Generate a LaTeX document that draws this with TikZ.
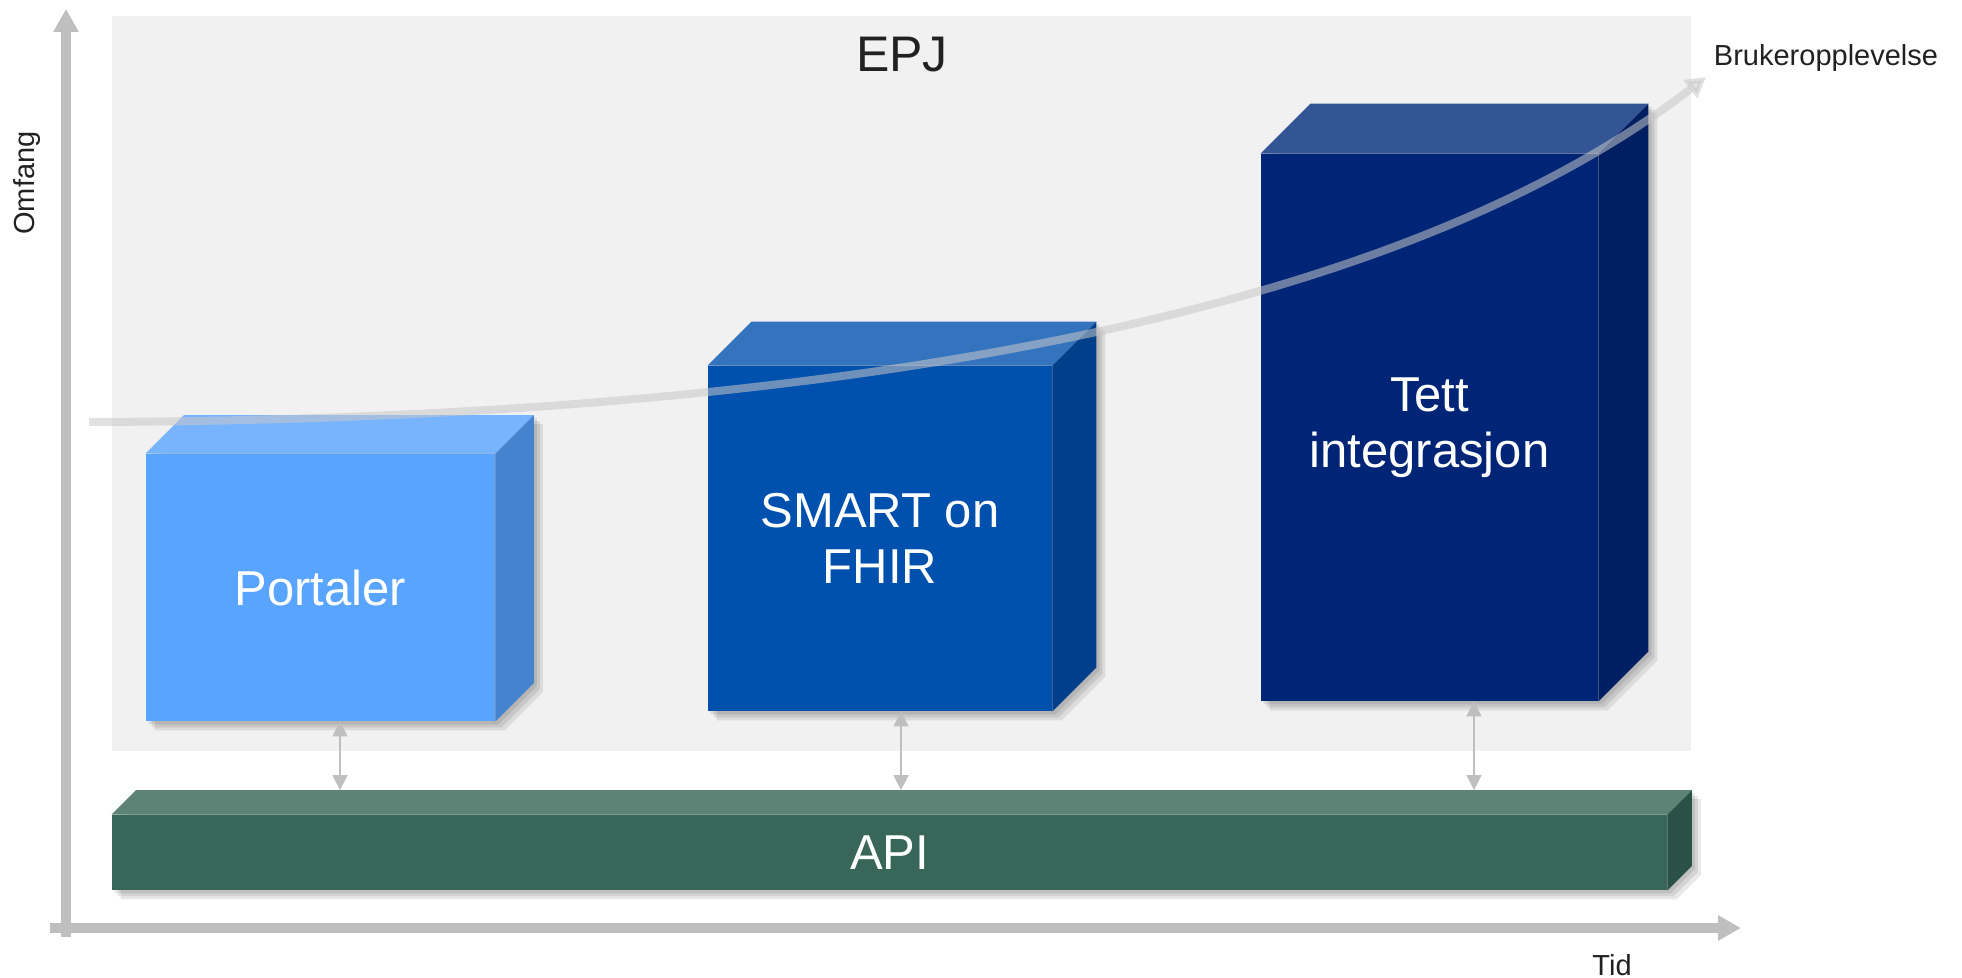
\documentclass[tikz,border=0pt]{standalone}
\usepackage{fontspec}
\setmainfont{Liberation Sans}
\usetikzlibrary{arrows.meta, backgrounds}
\tikzset{>=stealth}

\definecolor{epjbg}{HTML}{F1F1F1}
\definecolor{axisgray}{HTML}{BFBFBF}
\definecolor{trendgray}{HTML}{C8C8C8}
\definecolor{labeltext}{HTML}{212121}
\definecolor{portalF}{HTML}{58A4FE}
\definecolor{portalT}{HTML}{78B4FE}
\definecolor{portalS}{HTML}{4683CF}
\definecolor{smartF}{HTML}{0050AD}
\definecolor{smartT}{HTML}{3473BD}
\definecolor{smartS}{HTML}{00408B}
\definecolor{tettF}{HTML}{002577}
\definecolor{tettT}{HTML}{335596}
\definecolor{tettS}{HTML}{001F63}
\definecolor{apiF}{HTML}{386658}
\definecolor{apiT}{HTML}{5D8376}
\definecolor{apiS}{HTML}{2B5045}

\tikzset{
  boxfront/.style={inner sep=0pt, text=white, align=center, font=\fontsize{24.5}{28}\selectfont},
  axislabel/.style={text=labeltext, inner sep=0pt, font=\fontsize{14.5}{17}\selectfont},
  axisline/.style={axisgray, line width=5pt, -{Triangle[width=12pt,length=11.5pt]}},
  apilink/.style={axisgray, line width=0.75pt, {Triangle[width=7.5pt,length=7.5pt]}-{Triangle[width=7.5pt,length=7.5pt]}},
  trend/.style={draw=trendgray, opacity=0.55, line width=4pt, -{Triangle[width=11pt,length=10pt]}},
  boxshadow/.style={fill=black, opacity=0.09}
}

\begin{document}
\begin{tikzpicture}[x=0.5pt, y=-0.5pt]
    \useasboundingbox (0,0) rectangle (1962,978);
    % EPJ area
    \begin{scope}[on background layer]
        \fill[epjbg] (112,16) rectangle (1691,751);
    \end{scope}
    \node[axislabel, font=\fontsize{25}{30}\selectfont] (epj) at (902,55) {EPJ};

    % front faces
    \node[boxfront, fill=portalF, minimum width=174.5pt, minimum height=133.5pt] (portaler) at (320.5,587.5) {Portaler};
    \node[boxfront, fill=smartF, minimum width=172pt, minimum height=172.5pt] (smart) at (880,538.5) {SMART on\\FHIR};
    \node[boxfront, fill=tettF, minimum width=168.5pt, minimum height=273.5pt] (tett) at (1429.5,427.5) {Tett\\integrasjon};
    \node[boxfront, fill=apiF, minimum width=777.5pt, minimum height=37.5pt] (api) at (889.5,852.5) {API};

    % top and side faces, soft shadows
    \foreach \b/\d/\col in {portaler/38.5/portal, smart/44/smart, tett/50/tett, api/24.5/api} {
        \fill[\col T] (\b.north west) -- ([shift={(\d,-\d)}]\b.north west) -- ([shift={(\d,-\d)}]\b.north east) -- (\b.north east) -- cycle;
        \fill[\col S] (\b.north east) -- ([shift={(\d,-\d)}]\b.north east) -- ([shift={(\d,-\d)}]\b.south east) -- (\b.south east) -- cycle;
        \begin{scope}[on background layer]
            \foreach \s in {3,6,9} {
                \fill[boxshadow] ([shift={(\s,\s)}]\b.south west) -- ([shift={(\s,\s)}]\b.north west) -- ([shift={(\d+\s,\s-\d)}]\b.north west) -- ([shift={(\d+\s,\s-\d)}]\b.north east) -- ([shift={(\d+\s,\s-\d)}]\b.south east) -- ([shift={(\s,\s)}]\b.south east) -- cycle;
            }
        \end{scope}
    }

    % links to API
    \coordinate (apiback) at ([shift={(24.5,-24.5)}]api.north west);
    \draw[apilink] ([xshift=9.75pt]portaler.south) -- ([xshift=9.75pt]portaler.south |- apiback);
    \draw[apilink] ([xshift=10.5pt]smart.south) -- ([xshift=10.5pt]smart.south |- apiback);
    \draw[apilink] ([xshift=22.25pt]tett.south) -- ([xshift=22.25pt]tett.south |- apiback);

    % user experience curve
    \coordinate (trendstart) at (89,422);
    \coordinate (trendend) at (1706,77);
    \draw[trend] (trendstart) .. controls (800,420) and (1385,325) .. (trendend);
    \node[axislabel, anchor=base] (ux) at (1826,66) {Brukeropplevelse};

    % axes
    \coordinate (yfoot) at (66,937);
    \coordinate (ytop) at (66,9);
    \coordinate (xfoot) at (50,928);
    \coordinate (xend) at (1741,928);
    \draw[axisline] (yfoot) -- (ytop);
    \draw[axisline] (xfoot) -- (xend);
    \node[axislabel, rotate=90] (omfang) at (27,183) {Omfang};
    \node[axislabel, anchor=base] (tid) at (1612,975) {Tid};
\end{tikzpicture}
\end{document}
